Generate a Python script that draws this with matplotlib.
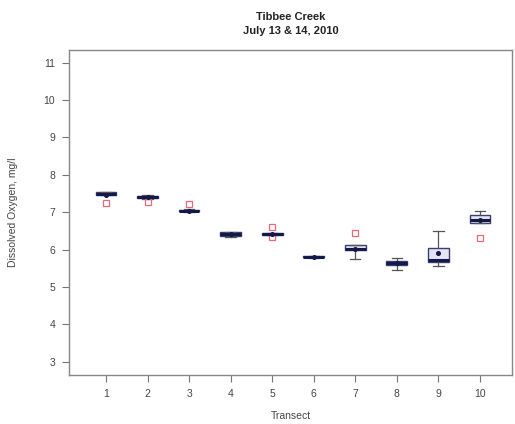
import matplotlib
matplotlib.use("Agg")
import matplotlib.pyplot as plt

plt.rcParams['font.family'] = ['Liberation Sans', 'DejaVu Sans']

# per-transect box statistics (mg/l)
transects = [1, 2, 3, 4, 5, 6, 7, 8, 9, 10]
q1 = [7.45, 7.37, 7.02, 6.37, 6.40, 5.79, 5.98, 5.58, 5.68, 6.72]
med = [7.48, 7.40, 7.04, 6.42, 6.42, 5.80, 6.03, 5.63, 5.72, 6.78]
q3 = [7.54, 7.43, 7.07, 6.47, 6.44, 5.82, 6.13, 5.70, 6.05, 6.93]
whislo = [7.45, 7.35, 7.00, 6.35, 6.38, 5.78, 5.76, 5.46, 5.57, 6.72]
whishi = [7.54, 7.46, 7.08, 6.48, 6.45, 5.82, 6.13, 5.78, 6.50, 7.02]
means = [7.47, 7.40, 7.04, 6.42, 6.42, 5.80, 6.03, 5.64, 5.92, 6.78]
outliers = [[7.25], [7.26], [7.23], [], [6.60, 6.33], [], [6.45], [], [], [6.32]]

stats = []
for i in range(len(transects)):
    stats.append(dict(q1=q1[i], med=med[i], q3=q3[i], whislo=whislo[i],
                      whishi=whishi[i], mean=means[i], fliers=outliers[i]))

fig = plt.figure(figsize=(5.15, 4.24), dpi=100)
ax = fig.add_axes((0.134, 0.1156, 0.86, 0.766))

ax.bxp(stats, positions=transects, widths=0.5, showmeans=True, patch_artist=True,
       boxprops=dict(facecolor='#e4e4f4', edgecolor='#3a3f6e', linewidth=1.0),
       medianprops=dict(color='#14184a', linewidth=2.2),
       whiskerprops=dict(color='#555555', linewidth=0.9, linestyle='-'),
       capprops=dict(color='#555555', linewidth=0.9),
       meanprops=dict(marker='o', markersize=2.6, markerfacecolor='#14184a',
                      markeredgecolor='#14184a'),
       flierprops=dict(marker='s', markersize=5, markerfacecolor='none',
                       markeredgecolor='#e86a78', markeredgewidth=0.9))

ax.set_xlim(0.11, 10.77)
ax.set_ylim(2.65, 11.33)
ax.set_xticks(transects)
ax.set_xticklabels([str(t) for t in transects])
ax.set_yticks(range(3, 12))

for s in ax.spines.values():
    s.set_color('#888888')
    s.set_linewidth(1.0)
ax.tick_params(axis='both', direction='out', length=5, color='#777777',
               labelcolor='#444444', labelsize=7.5, width=0.8, pad=5)

ax.set_xlabel("Transect", fontsize=7.5, color='#444444', labelpad=9)
ax.set_ylabel("Dissolved Oxygen, mg/l", fontsize=7.5, color='#444444', labelpad=18)
ax.set_title("Tibbee Creek\nJuly 13 & 14, 2010", fontsize=8, fontweight='bold',
             color='#222222', pad=12, linespacing=1.5)

plt.savefig("out.png", dpi=100)
